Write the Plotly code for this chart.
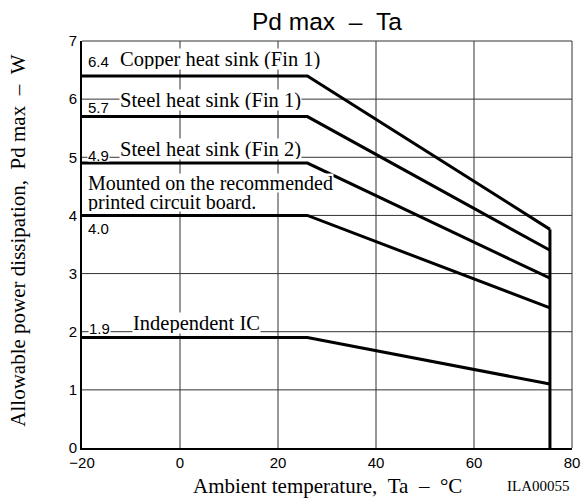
import plotly.graph_objects as go

NB = "\u00a0"

# ---- data ----
series_names = ["Copper heat sink (Fin 1)", "Steel heat sink (Fin 1)",
                "Steel heat sink (Fin 2)", "Mounted on the recommended printed circuit board.",
                "Independent IC"]
ta_start = -20
ta_knee = 26
ta_end = 75.5
pd_flat = [6.4, 5.7, 4.9, 4.0, 1.9]
pd_end = [3.76, 3.40, 2.92, 2.41, 1.10]
value_labels = ["6.4", "5.7", "4.9", "4.0", "1.9"]
x_ticks = [-20, 0, 20, 40, 60, 80]
y_ticks = [0, 1, 2, 3, 4, 5, 6, 7]

SERIF = "Liberation Serif"
SANS = "Liberation Sans"
GRID = "#333333"

fig = go.Figure()
for name, p0, p1 in zip(series_names, pd_flat, pd_end):
    fig.add_trace(go.Scatter(x=[ta_start, ta_knee, ta_end], y=[p0, p0, p1],
                             mode="lines", name=name, hoverinfo="skip",
                             line=dict(color="black", width=3)))
# vertical cut-off at the maximum ambient temperature
fig.add_trace(go.Scatter(x=[ta_end, ta_end], y=[max(pd_end), 0], mode="lines",
                         hoverinfo="skip",
                         line=dict(color="black", width=3), name="limit"))

# grid lines at the tick values
for xv in x_ticks[1:-1]:
    fig.add_shape(type="line", xref="x", yref="paper", x0=xv, x1=xv, y0=0, y1=1,
                  line=dict(color=GRID, width=1), layer="below")
for yv in y_ticks[1:-1]:
    fig.add_shape(type="line", xref="paper", yref="y", x0=0, x1=1, y0=yv, y1=yv,
                  line=dict(color=GRID, width=1), layer="below")
# top/right thin border
fig.add_shape(type="line", xref="paper", yref="paper", x0=0, x1=1, y0=1, y1=1,
              line=dict(color="#333", width=1), layer="below")
fig.add_shape(type="line", xref="paper", yref="paper", x0=1, x1=1, y0=0, y1=1,
              line=dict(color="#333", width=1), layer="below")

# value labels (x, y, bg)
val_pos = [(-16.7, 6.64, False), (-16.7, 5.86, False), (-16.7, 5.04, True),
           (-18.9, 3.78, False), (-16.4, 2.06, True)]
for lab, (x, y, bg) in zip(value_labels, val_pos):
    xa = "left" if lab == "4.0" else "center"
    fig.add_annotation(x=x, y=y, xref="x", yref="y", text=lab, showarrow=False,
                       xanchor=xa, yanchor="middle",
                       font=dict(family=SANS, size=15, color="black"),
                       bgcolor="white" if bg else None, borderpad=0,
                       height=12 if bg else None)

name_pos = [(-12.45, 6.69), (-12.45, 5.98), (-12.45, 5.15), None, (-9.73, 2.15)]
for nm, pos in zip(series_names, name_pos):
    if pos is None:
        continue
    fig.add_annotation(x=pos[0], y=pos[1], xref="x", yref="y", text=nm, showarrow=False,
                       xanchor="left", yanchor="middle",
                       font=dict(family=SERIF, size=20.5, color="black"),
                       bgcolor="white", borderpad=0, height=20)
fig.add_annotation(x=-18.9, y=4.56, xref="x", yref="y", text="Mounted on the recommended",
                   showarrow=False, xanchor="left", yanchor="middle",
                   font=dict(family=SERIF, size=20, color="black"),
                   bgcolor="white", borderpad=0, height=18)
fig.add_annotation(x=-18.9, y=4.23, xref="x", yref="y", text="printed circuit board.",
                   showarrow=False, xanchor="left", yanchor="middle",
                   font=dict(family=SERIF, size=20, color="black"),
                   bgcolor="white", borderpad=0, height=18)

# titles
fig.add_annotation(x=0.499, y=1.047, xref="paper", yref="paper",
                   text=f"Pd max{NB}{NB}–{NB}{NB}Ta", showarrow=False,
                   xanchor="center", yanchor="middle",
                   font=dict(family=SANS, size=24.5, color="black"))
fig.add_annotation(x=0.501, y=-0.093, xref="paper", yref="paper",
                   text=f"Ambient temperature,{NB}{NB}Ta{NB}{NB}–{NB}{NB}°C", showarrow=False,
                   xanchor="center", yanchor="middle",
                   font=dict(family=SERIF, size=21, color="black"))
fig.add_annotation(x=0.931, y=-0.093, xref="paper", yref="paper",
                   text="ILA00055", showarrow=False,
                   xanchor="center", yanchor="middle",
                   font=dict(family=SERIF, size=15, color="black"))
fig.add_annotation(x=-0.131, y=0.509, xref="paper", yref="paper", textangle=-90,
                   text=f"Allowable power dissipation,{NB}{NB}Pd max{NB}{NB}–{NB}{NB}W",
                   showarrow=False, xanchor="center", yanchor="middle",
                   font=dict(family=SERIF, size=21, color="black"))

axis_common = dict(ticks="", showgrid=False,
                   zeroline=False, showline=True, linecolor="black", linewidth=2,
                   automargin=False,
                   tickfont=dict(family=SANS, size=15, color="black"))
fig.update_layout(
    width=581, height=501,
    margin=dict(l=82, r=9, t=41, b=53, autoexpand=False),
    paper_bgcolor="white", plot_bgcolor="white",
    showlegend=False, hovermode=False,
    xaxis=dict(range=[-20, 80], tickmode="array", tickvals=x_ticks, **axis_common),
    yaxis=dict(range=[0, 7], tickmode="array", tickvals=y_ticks, **axis_common),
)

fig.write_html("out.html", config={"displayModeBar": False, "staticPlot": True},
               post_script="document.body.style.margin='0';document.body.style.overflow='hidden';")
